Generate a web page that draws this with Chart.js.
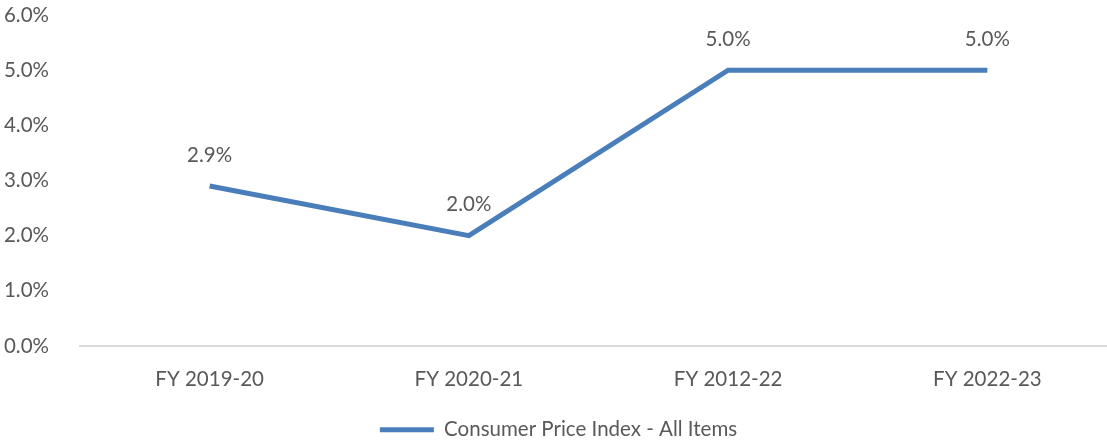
<!DOCTYPE html>
<html>
<head>
<meta charset="utf-8">
<script src="https://cdn.jsdelivr.net/npm/chart.js@4/dist/chart.umd.min.js"></script>
<style>
    html, body { margin: 0; padding: 0; background: #fff; overflow: hidden; }
    #wrap { width: 1117px; height: 444px; position: relative; }
</style>
</head>
<body>
<div id="wrap"><canvas id="cpiLine"></canvas></div>
<script>
const categories = ["FY 2019-20", "FY 2020-21", "FY 2012-22", "FY 2022-23"];
const cpiValues = [2.9, 2.0, 5.0, 5.0];
const seriesName = "Consumer Price Index - All Items";
const yTicks = [0, 1, 2, 3, 4, 5, 6];

const textColor = "#595959";
const lineColor = "#4a7ebb";
const fontFamily = "Lato, 'Open Sans', sans-serif";
const fontSize = 20.5;

// draws the value above each point
const pointLabels = {
    id: "pointLabels",
    afterDatasetsDraw(chart) {
        const c = chart.ctx;
        const meta = chart.getDatasetMeta(0);
        c.save();
        c.fillStyle = textColor;
        c.font = fontSize + "px " + fontFamily;
        c.textAlign = "center";
        c.textBaseline = "middle";
        meta.data.forEach((pt, i) => {
            c.fillText(cpiValues[i].toFixed(1) + "%", pt.x, pt.y - 31);
        });
        c.restore();
    }
};

document.addEventListener("DOMContentLoaded", function () {
    const ctx = document.getElementById("cpiLine");

    new Chart(ctx, {
        type: "line",
        data: {
            labels: categories,
            datasets: [{
                label: seriesName,
                data: cpiValues,
                borderColor: lineColor,
                backgroundColor: lineColor,
                borderWidth: 5,
                pointRadius: 0,
                tension: 0
            }]
        },
        options: {
            responsive: true,
            maintainAspectRatio: false,
            animation: false,
            layout: { padding: { top: 15, left: 0, right: 0, bottom: -6 } },
            plugins: {
                tooltip: { enabled: false },
                legend: {
                    display: true,
                    position: "bottom",
                    labels: {
                        color: textColor,
                        font: { family: fontFamily, size: fontSize },
                        boxWidth: 54,
                        boxHeight: 5,
                        padding: 15,
                        generateLabels(chart) {
                            return Chart.defaults.plugins.legend.labels.generateLabels(chart).map(l => {
                                l.lineWidth = 0;
                                l.fillStyle = lineColor;
                                return l;
                            });
                        }
                    }
                }
            },
            scales: {
                x: {
                    offset: true,
                    grid: { display: false },
                    border: { color: "#d9d9d9", width: 2 },
                    afterFit(axis) {
                        axis.paddingLeft = 0;
                        axis.paddingRight = 0;
                    },
                    ticks: {
                        color: textColor,
                        font: { family: fontFamily, size: fontSize },
                        padding: 13,
                        maxRotation: 0
                    }
                },
                y: {
                    min: yTicks[0],
                    max: yTicks[yTicks.length - 1],
                    afterBuildTicks(axis) {
                        axis.ticks = yTicks.map(v => ({ value: v }));
                    },
                    afterFit(axis) {
                        axis.width = 80;
                        axis.paddingTop = 0;
                        axis.paddingBottom = 0;
                    },
                    grid: { display: false },
                    border: { display: false },
                    ticks: {
                        color: textColor,
                        font: { family: fontFamily, size: fontSize },
                        padding: 23,
                        callback: v => v.toFixed(1) + "%"
                    }
                }
            }
        },
        plugins: [pointLabels]
    });
});
</script>
</body>
</html>
